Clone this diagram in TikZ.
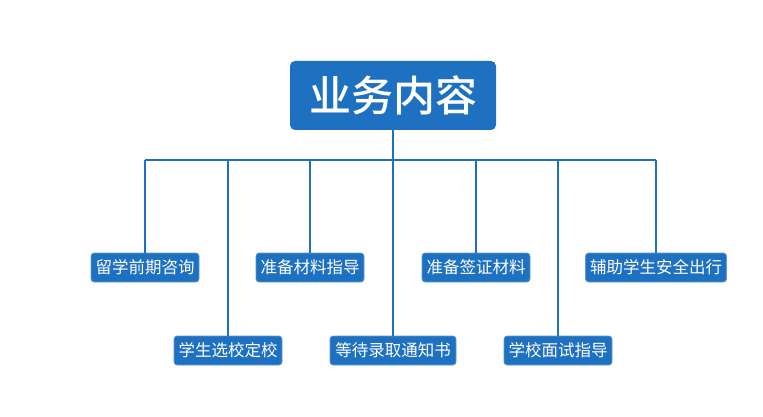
\documentclass[tikz,border=0pt]{standalone}
\usepackage{fontspec}
\newfontfamily\cjk{Noto Sans CJK SC}
\newfontfamily\cjkmed{Noto Sans CJK SC Medium}
\definecolor{boxblue}{RGB}{30,112,192}
\begin{document}
\begin{tikzpicture}[x=1pt,y=1pt,
  item/.style={fill=boxblue, draw=boxblue!70!white, line width=0.6pt, rounded corners=3pt, text=white,
    font=\cjk\fontsize{16.5}{19}\selectfont, minimum height=29pt, inner xsep=4pt, inner ysep=0pt},
  topbox/.style={fill=boxblue, rounded corners=5pt, text=white,
    font=\cjkmed\fontsize{42}{48}\selectfont, minimum width=206pt, minimum height=69pt, inner sep=0pt},
  link/.style={draw=boxblue, line width=1.4pt}]
\useasboundingbox (0,0) rectangle (763,-417);
\fill[white] (0,0) rectangle (763,-417);
\node[topbox] (top) at (393,-95.5) {业务内容};
\coordinate (barL) at (145,-160);
\coordinate (barR) at (656,-160);
\node[item, minimum width=108pt] (a1) at (145,-267.5) {留学前期咨询};
\node[item, minimum width=108pt] (a2) at (228,-350.5) {学生选校定校};
\node[item, minimum width=126pt] (a4) at (393,-350.5) {等待录取通知书};
\node[item, minimum width=108pt] (a3) at (310,-267.5) {准备材料指导};
\node[item, minimum width=108pt] (a5) at (476,-267.5) {准备签证材料};
\node[item, minimum width=108pt] (a6) at (558,-350.5) {学校面试指导};
\node[item, minimum width=141pt] (a7) at (656,-267.5) {辅助学生安全出行};
\draw[link] (top.south) -- (top.south |- barL);
\draw[link] (barL) -- (barR);
\foreach \n in {a1,a2,a3,a4,a5,a6,a7}{
  \draw[link] (\n.north) -- (\n.north |- barL);
}
\end{tikzpicture}
\end{document}
